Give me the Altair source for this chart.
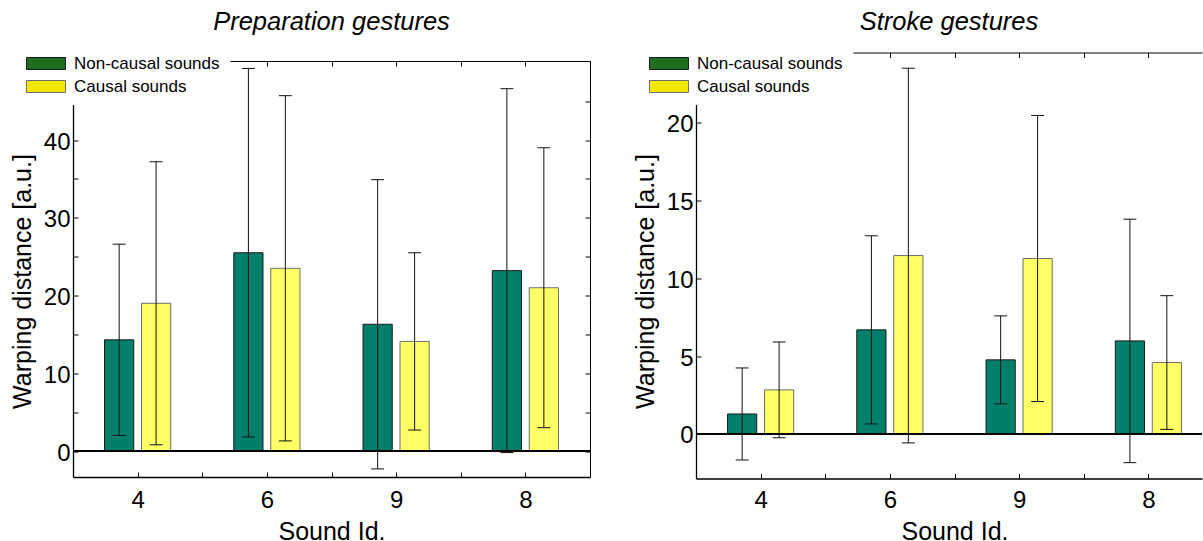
import altair as alt
import pandas as pd

# ---------------- data ----------------
categories = ["4", "6", "9", "8"]
series = ["Non-causal sounds", "Causal sounds"]

prep_noncausal_mean = [14.3, 25.5, 16.3, 23.2]
prep_noncausal_sd = [12.3, 23.7, 18.6, 23.4]
prep_causal_mean = [19.0, 23.5, 14.1, 21.0]
prep_causal_sd = [18.2, 22.2, 11.4, 18.0]

stroke_noncausal_mean = [1.28, 6.69, 4.76, 5.98]
stroke_noncausal_sd = [2.96, 6.05, 2.83, 7.83]
stroke_causal_mean = [2.83, 11.47, 11.28, 4.59]
stroke_causal_sd = [3.08, 12.05, 9.20, 4.30]

prep_y_labels = [0, 10, 20, 30, 40]
prep_y_ticks = [0, 5, 10, 15, 20, 25, 30, 35, 40, 45]
stroke_y_labels = [0, 5, 10, 15, 20]
stroke_y_ticks = [0, 5, 10, 15, 20]

# ---------------- styling / layout ----------------
BAR_FILL = ["#00806a", "#ffff66"]
BAR_EDGE = ["#1a1a1a", "#6e6e6e"]
LEGEND_FILL = ["#1f6e1f", "#f5e800"]
FONT = "Liberation Sans"
GROUP_SHIFT = 0.143
BAR_HALF = 0.113
CAP_HALF = 0.05
PX_PER_CAT = 129.25
LEFT_X, TOP_Y = 73, 52.5
WIN_W, WIN_H = 1203, 541


def make_frame(nc_mean, nc_sd, c_mean, c_sd):
    rows = []
    for s_i, (means, sds) in enumerate([(nc_mean, nc_sd), (c_mean, c_sd)]):
        shift = -GROUP_SHIFT if s_i == 0 else GROUP_SHIFT
        for c_i, cat in enumerate(categories):
            xc = c_i + 1 + shift
            m, s = means[c_i], sds[c_i]
            rows.append(dict(sound=cat, series=series[s_i], mean=m, sd=s, mid=m / 2,
                             lo=m - s, hi=m + s, xc=xc,
                             x0=xc - BAR_HALF, x1=xc + BAR_HALF,
                             c0=xc - CAP_HALF, c1=xc + CAP_HALF))
    return pd.DataFrame(rows)


def panel(df, title, y_domain, y_range, width, height, y_labels, y_ticks,
          frame_bottom, frame_top, right_frame):
    x_max = 0.5 + width / PX_PER_CAT
    xs = alt.Scale(domain=[0.5, x_max], range=[0, width], nice=False, zero=False)
    ys = alt.Scale(domain=y_domain, range=y_range, nice=False, zero=False)
    half_ticks = [v / 2 for v in range(2, 9) if v / 2 <= x_max - 0.01]
    label_expr = "[" + ",".join("'%s'" % c for c in categories) + "][datum.value - 1]"

    axis_x_labels = alt.Axis(orient="bottom", values=[1, 2, 3, 4], labelExpr=label_expr,
                             ticks=False, tickSize=0, domain=False, labelFontSize=24,
                             labelPadding=29, labelBaseline="alphabetic", labelAngle=0,
                             labelFlush=False, labelOverlap=False, grid=False,
                             title="Sound Id.", titleFontSize=25, titleFontWeight="normal",
                             titleX=258.5, titleY=60.5, titleBaseline="alphabetic",
                             titleAlign="center", zindex=0)
    axis_y_labels = alt.Axis(orient="left", values=y_labels, ticks=False, tickSize=0,
                             domain=False, labelFontSize=24, labelPadding=3, grid=False,
                             labelOverlap=False, labelOffset=2,
                             title="Warping distance [a.u.]", titleFontSize=25,
                             titleFontWeight="normal", titleAngle=270, titleX=-43,
                             titleY=228.5, titleAlign="center", titleBaseline="alphabetic",
                             zindex=0)
    axis_bottom_frame = alt.Axis(orient="top", offset=-frame_bottom, values=half_ticks,
                                 labels=False, ticks=True, tickSize=5, domain=True,
                                 domainWidth=1.3, grid=False, title=None, zindex=0)
    axis_top_frame = alt.Axis(orient="bottom", offset=-(height - frame_top), values=half_ticks,
                              labels=False, ticks=True, tickSize=5, domain=True,
                              domainWidth=1.2, grid=False, title=None, zindex=0)
    axis_left_frame = alt.Axis(orient="right", offset=-width, values=y_ticks, labels=False,
                               ticks=True, tickSize=5, domain=True, domainWidth=1.3,
                               grid=False, title=None, zindex=0)
    axis_right_frame = alt.Axis(orient="left", offset=-width, values=y_ticks, labels=False,
                                ticks=True, tickSize=5, domain=True, grid=False, title=None,
                                zindex=0) if right_frame else None

    base = alt.Chart(df)
    # legend carrier: small squares hidden under the bars (drawn first)
    legend_layer = base.mark_square(size=20, stroke="black", strokeWidth=1, opacity=1).encode(
        x=alt.X("xc:Q", scale=xs, axis=None),
        y=alt.Y("mid:Q", scale=ys, axis=None),
        fill=alt.Fill("series:N", scale=alt.Scale(domain=series, range=LEGEND_FILL),
                      legend=alt.Legend(orient="none", legendX=-45.5, legendY=-7.5, title=None,
                                        symbolType="M-3.25,-1H3.25V1H-3.25Z",
                                        symbolSize=144, symbolStrokeColor="black",
                                        symbolStrokeWidth=1, symbolOpacity=1,
                                        labelFontSize=17,
                                        labelFont=FONT, labelColor="black", labelOffset=19.5,
                                        rowPadding=5, padding=10, fillColor="white",
                                        zindex=1)),
    )
    bars = base.mark_rect(strokeWidth=1).encode(
        x=alt.X("x0:Q", scale=xs, axis=axis_x_labels),
        x2="x1:Q",
        y=alt.Y("mean:Q", scale=ys, axis=axis_y_labels),
        y2=alt.datum(0),
        color=alt.Color("series:N", scale=alt.Scale(domain=series, range=BAR_FILL), legend=None),
        stroke=alt.Stroke("series:N", scale=alt.Scale(domain=series, range=BAR_EDGE), legend=None),
    )
    errs = base.mark_rule(color="#111111", strokeWidth=1).encode(
        x=alt.X("xc:Q", scale=xs, axis=axis_bottom_frame),
        y=alt.Y("lo:Q", scale=ys, axis=axis_left_frame),
        y2="hi:Q",
    )
    caps_hi = base.mark_rule(color="#111111", strokeWidth=1).encode(
        x=alt.X("c0:Q", scale=xs, axis=axis_top_frame),
        x2="c1:Q",
        y=alt.Y("hi:Q", scale=ys, axis=axis_right_frame),
    )
    caps_lo = base.mark_rule(color="#111111", strokeWidth=1).encode(
        x=alt.X("c0:Q", scale=xs, axis=None),
        x2="c1:Q",
        y=alt.Y("lo:Q", scale=ys, axis=None),
    )
    zero = base.mark_rule(color="black", strokeWidth=1).encode(
        y=alt.YDatum(0, scale=ys, axis=None),
    )
    return alt.layer(legend_layer, bars, errs, caps_hi, caps_lo, zero).resolve_axis(
        x="independent", y="independent"
    ).properties(
        width=width, height=height,
        view=alt.ViewBackground(stroke="transparent", strokeWidth=0),
        title=alt.TitleParams(title, fontSize=25.5, fontStyle="italic", fontWeight="normal",
                              font=FONT, anchor="middle", frame="group", offset=-10,
                              baseline="alphabetic", color="black"),
    )


prep_df = make_frame(prep_noncausal_mean, prep_noncausal_sd, prep_causal_mean, prep_causal_sd)
stroke_df = make_frame(stroke_noncausal_mean, stroke_noncausal_sd, stroke_causal_mean, stroke_causal_sd)

H = 426
left = panel(prep_df, "Preparation gestures", [-3.34, 50.16], [424.5, 8.5], 517, H,
             prep_y_labels, prep_y_ticks, 424.5, 8.5, True)
right = panel(stroke_df, "Stroke gestures", [-2.87, 24.53], [426, 0], 506, H,
              stroke_y_labels, stroke_y_ticks, 426, 0, False)

chart = alt.hconcat(left, right, spacing=106, bounds="flush").resolve_scale(
    x="independent", y="independent", color="independent", fill="independent",
    stroke="independent"
).resolve_legend(fill="independent").properties(
    autosize=alt.AutoSizeParams(type="none"),
    padding={"left": LEFT_X, "top": TOP_Y, "right": WIN_W - LEFT_X, "bottom": WIN_H - TOP_Y},
).configure_view(stroke="transparent", strokeWidth=0).configure(font=FONT).configure_axis(
    domainColor="black", tickColor="black", labelColor="black", titleColor="black",
    labelFont=FONT, titleFont=FONT, domainWidth=1, tickWidth=1
)

chart.save("out.html", embed_options={"renderer": "svg", "actions": False})
